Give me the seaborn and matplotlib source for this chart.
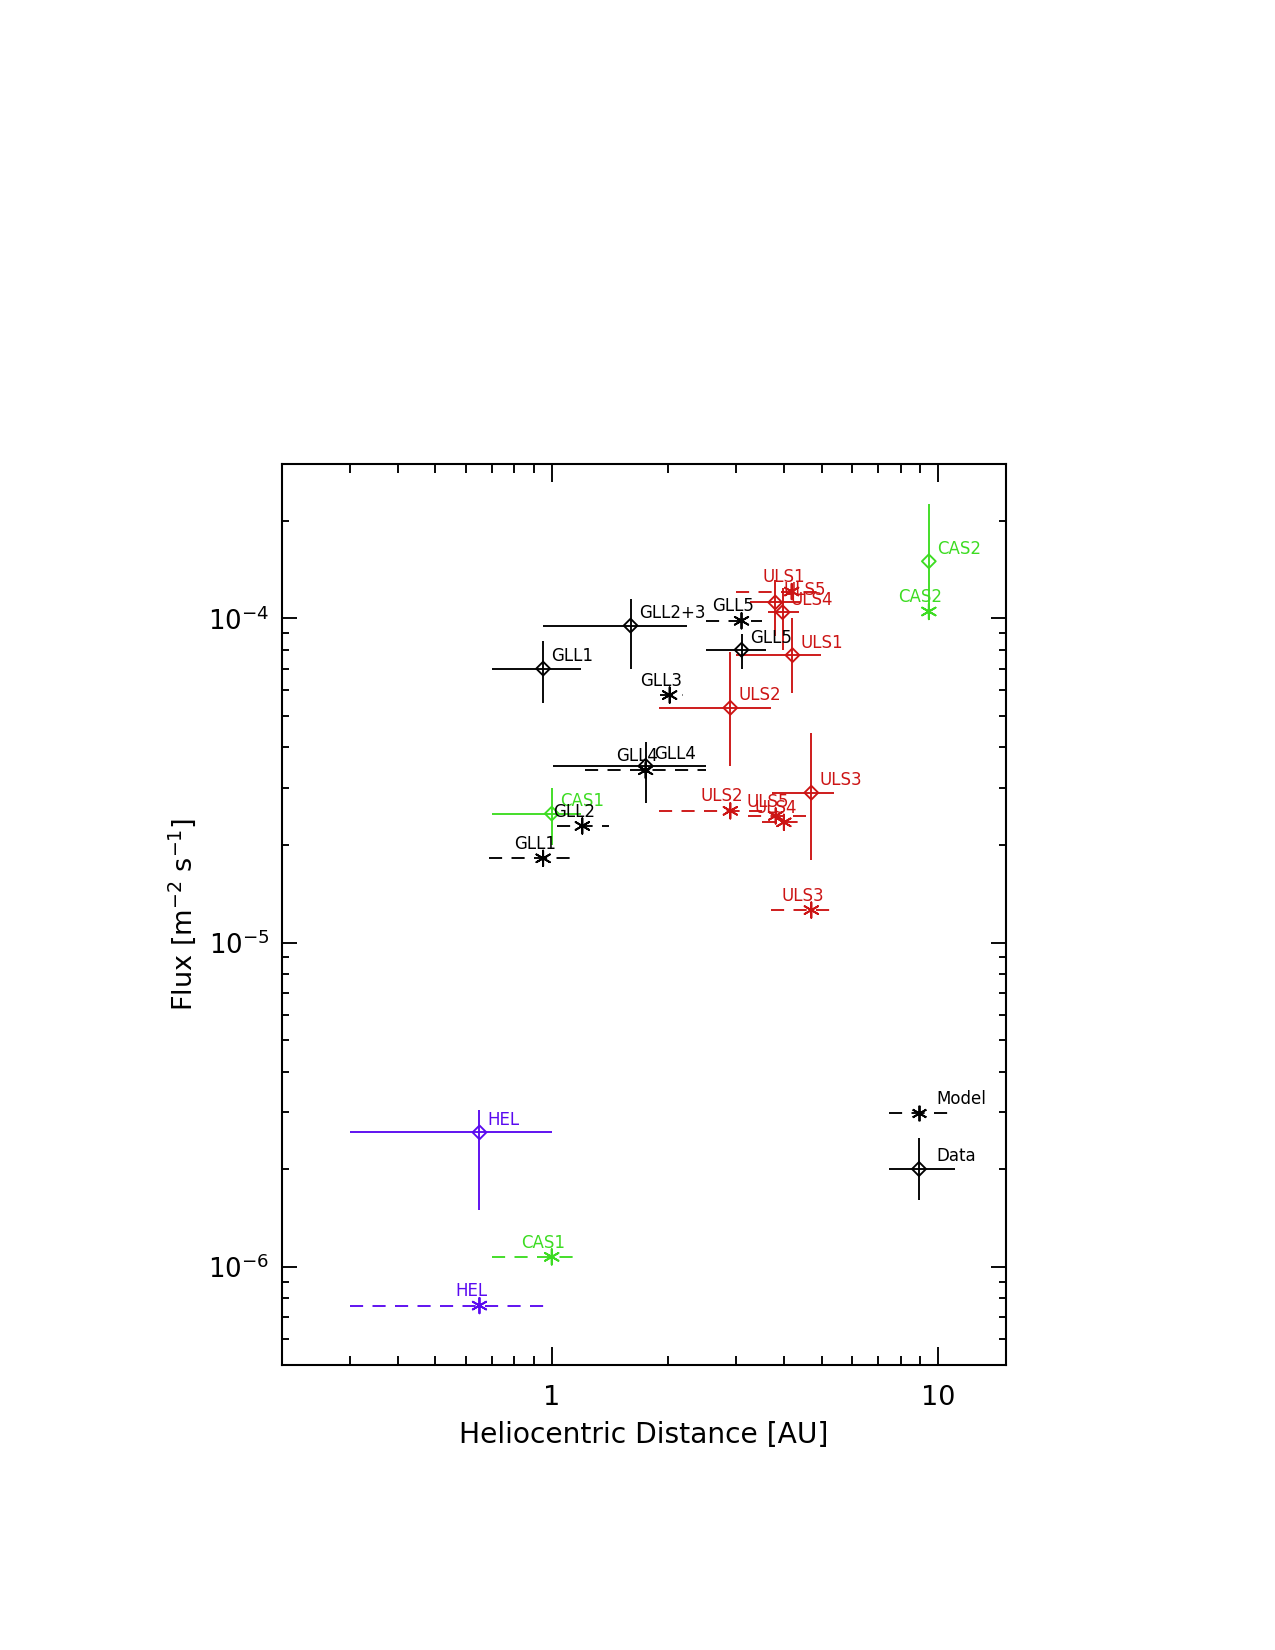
import matplotlib
matplotlib.use("Agg")
import matplotlib.pyplot as plt
import pandas as pd
import seaborn as sns
from matplotlib.ticker import FixedLocator, LogLocator, NullFormatter

# Measured fluxes (diamonds with solid error bars)
data_names = ["GLL1", "GLL2+3", "GLL4", "GLL5", "ULS1", "ULS2", "ULS3", "ULS4", "ULS5", "HEL", "CAS1", "CAS2"]
data_craft = ["GLL", "GLL", "GLL", "GLL", "ULS", "ULS", "ULS", "ULS", "ULS", "HEL", "CAS", "CAS"]
data_dist = [0.95, 1.60, 1.75, 3.10, 4.20, 2.90, 4.70, 3.96, 3.79, 0.65, 1.00, 9.47]
data_dist_lo = [0.70, 0.95, 1.01, 2.51, 3.00, 1.90, 3.72, 3.64, 3.27, 0.30, 0.70, 9.47]
data_dist_hi = [1.19, 2.24, 2.51, 3.59, 4.97, 3.69, 5.38, 4.36, 4.40, 1.00, 1.19, 9.47]
data_flux = [7.0e-5, 9.5e-5, 3.51e-5, 8.0e-5, 7.7e-5, 5.3e-5, 2.9e-5, 1.045e-4, 1.12e-4, 2.6e-6, 2.5e-5, 1.5e-4]
data_flux_lo = [5.5e-5, 7.0e-5, 2.70e-5, 7.0e-5, 5.9e-5, 3.5e-5, 1.8e-5, 7.98e-5, 8.8e-5, 1.5e-6, 2.0e-5, 1.0e-4]
data_flux_hi = [8.5e-5, 1.145e-4, 4.17e-5, 8.95e-5, 1.0e-4, 7.9e-5, 4.43e-5, 1.24e-4, 1.31e-4, 3.05e-6, 3.0e-5, 2.25e-4]

# Model fluxes (asterisks with dashed range)
model_names = ["GLL1", "GLL2", "GLL3", "GLL4", "GLL5", "ULS1", "ULS2", "ULS3", "ULS4", "ULS5", "HEL", "CAS1", "CAS2"]
model_craft = ["GLL", "GLL", "GLL", "GLL", "GLL", "ULS", "ULS", "ULS", "ULS", "ULS", "HEL", "CAS", "CAS"]
model_dist = [0.95, 1.20, 2.02, 1.75, 3.10, 4.18, 2.90, 4.70, 3.99, 3.80, 0.65, 1.00, 9.47]
model_dist_lo = [0.69, 1.03, 1.91, 1.22, 2.51, 3.00, 1.90, 3.70, 3.51, 3.22, 0.30, 0.70, 9.47]
model_dist_hi = [1.13, 1.41, 2.19, 2.51, 3.51, 4.97, 3.69, 5.26, 4.35, 4.54, 1.00, 1.15, 9.47]
model_flux = [1.82e-5, 2.29e-5, 5.8e-5, 3.40e-5, 9.83e-5, 1.21e-4, 2.55e-5, 1.26e-5, 2.35e-5, 2.46e-5, 7.6e-7, 1.074e-6, 1.05e-4]

# hand-made legend in the lower right
key_labels = ["Model", "Data"]
key_dist = [8.95, 8.95]
key_dist_lo = [7.47, 7.47]
key_dist_hi = [10.68, 11.05]
key_flux = [2.99e-6, 2.0e-6]
key_flux_lo = [2.99e-6, 1.61e-6]
key_flux_hi = [2.99e-6, 2.49e-6]

colors = {"GLL": "black", "ULS": "#cc1414", "HEL": "#5a0af0", "CAS": "#3ddc22"}

data_df = pd.DataFrame({"name": data_names, "craft": data_craft, "dist": data_dist,
                        "xlo": data_dist_lo, "xhi": data_dist_hi, "flux": data_flux,
                        "ylo": data_flux_lo, "yhi": data_flux_hi})
model_df = pd.DataFrame({"name": model_names, "craft": model_craft, "dist": model_dist,
                         "xlo": model_dist_lo, "xhi": model_dist_hi, "flux": model_flux})

sns.set_style("ticks")
plt.rcParams["font.family"] = ["DejaVu Sans"]
plt.rcParams.update({"text.color": "black", "axes.labelcolor": "black",
                     "xtick.color": "black", "ytick.color": "black",
                     "axes.edgecolor": "black"})

fig = plt.figure(figsize=(8.5, 11), dpi=150)
ax = fig.add_axes([0.221, 0.173, 0.568, 0.546])
ax.set_xscale("log")
ax.set_yscale("log")

lw = 0.9
dash = (0, (7, 5))

# error bars / ranges
dcol = [colors[c] for c in data_df["craft"]]
mcol = [colors[c] for c in model_df["craft"]]
ax.hlines(data_df["flux"], data_df["xlo"], data_df["xhi"], colors=dcol, lw=lw)
ax.vlines(data_df["dist"], data_df["ylo"], data_df["yhi"], colors=dcol, lw=lw)
ax.hlines(model_df["flux"], model_df["xlo"], model_df["xhi"], colors=mcol, lw=lw, linestyles=[dash])

# markers
sns.scatterplot(data=model_df, x="dist", y="flux", hue="craft", palette=colors,
                marker=(6, 2, 0), s=55, linewidth=0.9, legend=False, ax=ax, zorder=3)
sns.scatterplot(data=data_df, x="dist", y="flux", hue="craft", palette=colors,
                marker="D", s=22, linewidth=0.9, legend=False, ax=ax, zorder=3)
pts = ax.collections[-1]
pts.set_edgecolors(pts.get_facecolors())
pts.set_facecolors("none")

# labels
for _, r in data_df.iterrows():
    ax.annotate(r["name"], (r["dist"], r["flux"]), xytext=(4, 3.5), textcoords="offset points",
                ha="left", va="baseline", fontsize=8, color=colors[r["craft"]])
for _, r in model_df.iterrows():
    ax.annotate(r["name"], (r["dist"], r["flux"]), xytext=(-4, 4.5), textcoords="offset points",
                ha="center", va="baseline", fontsize=8, color=colors[r["craft"]])

# legend keys
ax.hlines(key_flux[0], key_dist_lo[0], key_dist_hi[0], colors="black", lw=lw, linestyles=[dash])
ax.plot(key_dist[0], key_flux[0], marker=(6, 2, 0), ms=7.5, mew=0.9, color="black", ls="none")
ax.hlines(key_flux[1], key_dist_lo[1], key_dist_hi[1], colors="black", lw=lw)
ax.vlines(key_dist[1], key_flux_lo[1], key_flux_hi[1], colors="black", lw=lw)
ax.plot(key_dist[1], key_flux[1], marker="D", ms=4.5, mew=0.9, mfc="none", color="black", ls="none")
for lab, x, y in zip(key_labels, key_dist, key_flux):
    ax.annotate(lab, (x, y), xytext=(8, 4), textcoords="offset points",
                ha="left", va="baseline", fontsize=8, color="black")

ax.set_xlim(0.2, 15)
ax.set_ylim(5e-7, 3e-4)

ax.xaxis.set_major_locator(FixedLocator([1, 10]))
ax.xaxis.set_minor_locator(LogLocator(base=10, subs=range(2, 10)))
ax.xaxis.set_minor_formatter(NullFormatter())
ax.set_xticklabels(["1", "10"])
ax.yaxis.set_major_locator(LogLocator(base=10))
ax.yaxis.set_minor_locator(LogLocator(base=10, subs=range(2, 10), numticks=20))
ax.yaxis.set_minor_formatter(NullFormatter())

ax.tick_params(which="both", direction="in", top=True, right=True, width=0.9, labelsize=13)
ax.tick_params(axis="x", which="major", length=8.6, pad=10)
ax.tick_params(axis="x", which="minor", length=4.3)
ax.tick_params(axis="y", which="major", length=7, pad=6, labelsize=12.5)
ax.tick_params(axis="y", which="minor", length=3.5)
for sp in ax.spines.values():
    sp.set_linewidth(1.0)

ax.set_xlabel("Heliocentric Distance [AU]", fontsize=13.5, labelpad=4.5)
ax.set_ylabel(r"Flux [m$^{-2}$ s$^{-1}$]", fontsize=13, labelpad=5)

fig.savefig("out.png", dpi=150)
